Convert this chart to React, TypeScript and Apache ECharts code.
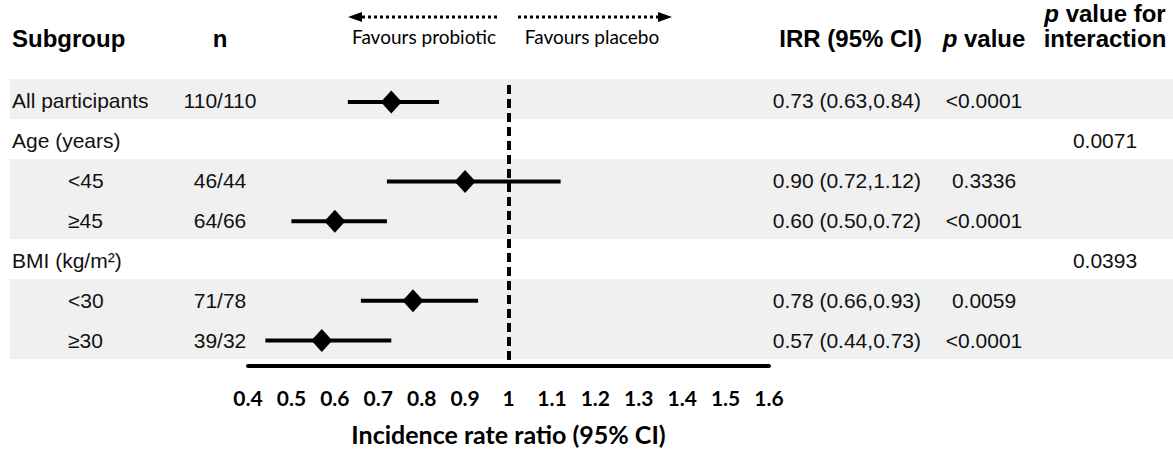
import React, { useEffect, useRef } from "react";
import * as echarts from "echarts";

// ---- data ----
const subgroups = ["All participants", "Age (years)", "<45", "≥45", "BMI (kg/m²)", "<30", "≥30"];
const indented = [false, false, true, true, false, true, true];
const shadedRows = [true, false, true, true, false, true, true];
const nCounts = ["110/110", "", "46/44", "64/66", "", "71/78", "39/32"];
const irr = [0.73, null, 0.9, 0.6, null, 0.78, 0.57];
const ciLow = [0.63, null, 0.72, 0.5, null, 0.66, 0.44];
const ciHigh = [0.84, null, 1.12, 0.72, null, 0.93, 0.73];
const pValues = ["<0.0001", "", "0.3336", "<0.0001", "", "0.0059", "<0.0001"];
const pInteraction = ["", "0.0071", "", "", "0.0393", "", ""];
const xTicks = [0.4, 0.5, 0.6, 0.7, 0.8, 0.9, 1, 1.1, 1.2, 1.3, 1.4, 1.5, 1.6];
const headers = { subgroup: "Subgroup", n: "n", irr: "IRR (95% CI)", p: "p value", pint1: "p value for", pint2: "interaction" };
const axisTitle = "Incidence rate ratio (95% CI)";
const favours = ["Favours probiotic", "Favours placebo"];

const ARIAL = "'Liberation Sans', Arial, sans-serif";
const CAL = "Lato, 'Open Sans', sans-serif";
const FS = 21;
const HFS = 24;
const ROW_SHIFT = 0.08;

const fmt = (v: number) => v.toFixed(2);
const irrText = irr.map((v, i) => (v == null ? "" : `${fmt(v)} (${fmt(ciLow[i] as number)},${fmt(ciHigh[i] as number)})`));

const Y_MIN = -0.5;
const Y_MAX = 6.725;

const hText = (x: number, y: number, text: string, align: string) => ({
  type: "text",
  x,
  y,
  style: { text, fontFamily: ARIAL, fontWeight: "bold", fontSize: HFS, fill: "#000", align, verticalAlign: "middle" },
});
const richStyles = {
  i: { fontFamily: ARIAL, fontWeight: "bold", fontStyle: "italic", fontSize: HFS, fill: "#000", lineHeight: 25 },
  b: { fontFamily: ARIAL, fontWeight: "bold", fontSize: HFS, fill: "#000", lineHeight: 25 },
};

export default function App() {
  const ref = useRef<HTMLDivElement>(null);
  useEffect(() => {
    if (!ref.current) return;
    const chart = echarts.init(ref.current, null, { renderer: "svg" });
    const rowIdx = subgroups.map((_, i) => i);
    const ciData = rowIdx.filter((i) => irr[i] != null).map((i) => [ciLow[i], ciHigh[i], i]);
    const ptData = rowIdx.filter((i) => irr[i] != null).map((i) => [irr[i], i + ROW_SHIFT]);
    const bandData = rowIdx.filter((i) => shadedRows[i]).map((i) => [0, i]);
    const textData = rowIdx.map((i) => [0, i]);

    const yAxisCommon = { type: "value", inverse: true, min: Y_MIN, max: Y_MAX, show: false };

    const option: any = {
      animation: false,
      backgroundColor: "#ffffff",
      grid: [
        { left: 248, width: 521, top: 79, height: 289 },
        { left: 0, right: 0, top: 79, height: 289 },
      ],
      xAxis: [
        {
          gridIndex: 0,
          type: "value",
          min: 0.4,
          max: 1.6,
          interval: 0.1,
          axisLine: { show: true, onZero: false, lineStyle: { color: "#000", width: 4 } },
          axisTick: { show: false },
          splitLine: { show: false },
          axisLabel: {
            margin: 21,
            color: "#000",
            fontFamily: CAL,
            fontWeight: "bold",
            fontSize: 21,
            showMinLabel: true,
            showMaxLabel: true,
            formatter: (v: number) => {
              const r = Math.round(v * 10) / 10;
              return xTicks.includes(r) ? String(r) : "";
            },
          },
          name: axisTitle,
          nameLocation: "middle",
          nameGap: 55,
          nameTextStyle: { color: "#000", fontFamily: CAL, fontWeight: "bold", fontSize: 25 },
        },
        { gridIndex: 1, type: "value", min: 0, max: 1173, show: false },
      ],
      yAxis: [
        { gridIndex: 0, ...yAxisCommon },
        { gridIndex: 1, ...yAxisCommon },
      ],
      series: [
        {
          type: "custom",
          xAxisIndex: 1,
          yAxisIndex: 1,
          z: 0,
          silent: true,
          data: bandData,
          renderItem: (params: any, api: any) => {
            const i = api.value(1);
            const top = api.coord([10, i - 0.5]);
            const bot = api.coord([1173, i + 0.5]);
            return {
              type: "rect",
              shape: { x: top[0], y: top[1], width: bot[0] - top[0], height: bot[1] - top[1] },
              style: { fill: "#f0f0f0" },
            };
          },
        },
        {
          type: "custom",
          xAxisIndex: 1,
          yAxisIndex: 1,
          z: 3,
          silent: true,
          data: textData,
          renderItem: (params: any, api: any) => {
            const i = api.value(1);
            const y = api.coord([0, i + ROW_SHIFT / 2])[1];
            const mk = (x: number, text: string, align: string) => ({
              type: "text",
              x,
              y,
              style: { text, fontFamily: ARIAL, fontSize: FS, fill: "#111", align, verticalAlign: "middle" },
            });
            const children: any[] = [mk(indented[i] ? 68 : 12, subgroups[i], "left")];
            if (nCounts[i]) children.push(mk(220, nCounts[i], "center"));
            if (irrText[i]) children.push(mk(921, irrText[i], "right"));
            if (pValues[i]) children.push(mk(984, pValues[i], "center"));
            if (pInteraction[i]) children.push(mk(1105, pInteraction[i], "center"));
            return { type: "group", children };
          },
        },
        {
          type: "custom",
          xAxisIndex: 0,
          yAxisIndex: 0,
          z: 4,
          silent: true,
          data: ciData,
          encode: { x: [0, 1], y: 2 },
          renderItem: (params: any, api: any) => {
            const i = api.value(2) + ROW_SHIFT;
            const a = api.coord([api.value(0), i]);
            const b = api.coord([api.value(1), i]);
            return {
              type: "line",
              shape: { x1: a[0], y1: a[1], x2: b[0], y2: b[1] },
              style: { stroke: "#000", lineWidth: 4 },
            };
          },
        },
        {
          type: "scatter",
          xAxisIndex: 0,
          yAxisIndex: 0,
          z: 5,
          silent: true,
          symbol: "diamond",
          symbolSize: [21, 23],
          itemStyle: { color: "#000", opacity: 1 },
          data: ptData,
          markLine: {
            silent: true,
            symbol: ["none", "none"],
            label: { show: false },
            lineStyle: { color: "#000", width: 4, type: [9, 5], opacity: 1 },
            data: [[{ coord: [1, -0.35] }, { coord: [1, Y_MAX] }]],
          },
        },
      ],
      graphic: [
        hText(12, 38, headers.subgroup, "left"),
        hText(220, 38, headers.n, "center"),
        hText(922, 38, headers.irr, "right"),
        {
          type: "text", x: 984, y: 38,
          style: { text: "{i|p}{b| value}", align: "center", verticalAlign: "middle", rich: richStyles },
        },
        {
          type: "text", x: 1105, y: 26,
          style: { text: "{i|p}{b| value for}\n{b|interaction}", align: "center", verticalAlign: "middle", rich: richStyles },
        },
        // arrows
        { type: "line", shape: { x1: 356, y1: 17, x2: 500, y2: 17 }, style: { stroke: "#000", lineWidth: 3, lineDash: [3, 3] } },
        { type: "polygon", shape: { points: [[348, 17], [362, 12], [362, 22]] }, style: { fill: "#000" } },
        { type: "line", shape: { x1: 518, y1: 17, x2: 662, y2: 17 }, style: { stroke: "#000", lineWidth: 3, lineDash: [3, 3] } },
        { type: "polygon", shape: { points: [[672, 17], [658, 12], [658, 22]] }, style: { fill: "#000" } },
        { type: "text", x: 424, y: 36, style: { text: favours[0], fontFamily: CAL, fontSize: 19, fill: "#000", align: "center", verticalAlign: "middle" } },
        { type: "text", x: 592, y: 36, style: { text: favours[1], fontFamily: CAL, fontSize: 19, fill: "#000", align: "center", verticalAlign: "middle" } },
      ],
    };
    chart.setOption(option);
    return () => chart.dispose();
  }, []);
  return (
    <div
      ref={ref}
      style={{ position: "fixed", left: 0, top: 0, width: 1173, height: 451, background: "#fff" }}
    />
  );
}
